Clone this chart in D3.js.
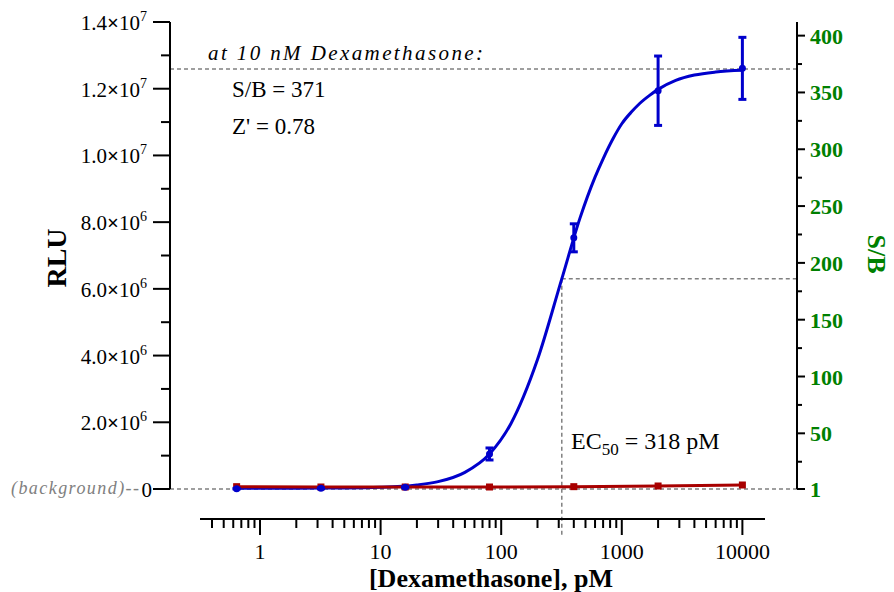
<!DOCTYPE html>
<html><head><meta charset="utf-8">
<script src="https://cdn.jsdelivr.net/npm/d3@7"></script>
<style>
html,body{margin:0;padding:0;background:#fff;}
svg{display:block;}
svg text{font-family:"Liberation Serif","Times New Roman",serif;}
</style></head>
<body><svg id="c" width="894" height="592"></svg>
<script>
// ---- data ----
const concentrations = [0.64, 3.2, 16, 80, 400, 2000, 10000];           // pM
const sampleRLU      = [0.01e6, 0.02e6, 0.05e6, 1.05e6, 7.53e6, 11.94e6, 12.61e6];
const sampleErr      = [0.01e6, 0.01e6, 0.01e6, 0.18e6, 0.42e6, 1.04e6, 0.93e6];
const backgroundRLU  = [0.07e6, 0.06e6, 0.06e6, 0.06e6, 0.07e6, 0.09e6, 0.12e6];
// fitted curve
const fitConc = [0.64, 1, 2, 5, 10, 20, 30, 50, 80, 120, 200, 318, 450, 600, 700, 845, 1000, 1200, 1400, 1700, 2000, 2800, 4000, 6000, 10000];
const fitRLU  = [0.02e6, 0.02e6, 0.025e6, 0.03e6, 0.05e6, 0.12e6, 0.22e6, 0.50e6, 1.05e6, 1.95e6, 3.88e6, 6.30e6,
                 8.12e6, 9.35e6, 9.9e6, 10.5e6, 10.95e6, 11.3e6, 11.55e6, 11.8e6, 11.98e6, 12.25e6, 12.41e6, 12.5e6, 12.55e6];
const leftTicks  = [0, 2e6, 4e6, 6e6, 8e6, 1e7, 1.2e7, 1.4e7];
const leftTickLabels = [["0"], ["2.0", "6"], ["4.0", "6"], ["6.0", "6"], ["8.0", "6"], ["1.0", "7"], ["1.2", "7"], ["1.4", "7"]];
const rightTicks = [1, 50, 100, 150, 200, 250, 300, 350, 400];
const xTicks     = [1, 10, 100, 1000, 10000];
const ec50 = 318, halfMax = 6.30e6, topLevel = 12.59e6;

// ---- scales ----
const svg = d3.select("#c");
const x  = d3.scaleLog().domain([0.318, 15400]).range([200, 765]);
const y  = d3.scaleLinear().domain([0, 1.4e7]).range([489, 22]);
const y2 = d3.scaleLinear().domain([1, 412]).range([489, 22]);
const xL = 170, xR = 797, xAxisY = 519;
const blue = "#0000cc", red = "#a80000", green = "#008000", gray = "#808080";

// ---- dashed guide lines ----
const dash = svg.append("g").attr("stroke", gray).attr("stroke-width", 1.5).attr("stroke-dasharray", "4,3").attr("fill", "none");
dash.append("line").attr("x1", xL).attr("x2", xR).attr("y1", y(topLevel)).attr("y2", y(topLevel));
dash.append("line").attr("x1", xL).attr("x2", xR).attr("y1", y(0)).attr("y2", y(0));
dash.append("line").attr("x1", x(ec50)).attr("x2", xR).attr("y1", y(halfMax)).attr("y2", y(halfMax));
dash.append("line").attr("x1", x(ec50)).attr("x2", x(ec50)).attr("y1", y(halfMax)).attr("y2", xAxisY + 16);

// ---- left axis ----
const la = svg.append("g");
la.append("line").attr("x1", xL).attr("x2", xL).attr("y1", y(1.4e7)).attr("y2", y(0)).attr("stroke", "#000").attr("stroke-width", 2);
const leftMinor = d3.range(1e6, 1.4e7, 2e6);
la.selectAll(".lmin").data(leftMinor).join("line").attr("x1", xL - 9).attr("x2", xL).attr("y1", d => y(d)).attr("y2", d => y(d)).attr("stroke", "#000").attr("stroke-width", 2);
la.selectAll(".lmaj").data(leftTicks).join("line").attr("x1", xL - 17).attr("x2", xL).attr("y1", d => y(d)).attr("y2", d => y(d)).attr("stroke", "#000").attr("stroke-width", 2);
leftTicks.forEach((v, i) => {
  const lab = leftTickLabels[i];
  const t = la.append("text").attr("text-anchor", "end").attr("font-size", 21).attr("fill", "#000")
    .attr("x", lab.length === 1 ? 152 : 147).attr("y", y(v) + 8);
  if (lab.length === 1) { t.text(lab[0]); return; }
  t.append("tspan").text(lab[0]);
  t.append("tspan").attr("font-weight", "bold").text("\u00d7");
  t.append("tspan").text("10");
  t.append("tspan").attr("font-size", 14).attr("dy", -9).text(lab[1]);
});
svg.append("text").attr("transform", "translate(66,258) rotate(-90)").attr("text-anchor", "middle")
  .attr("font-size", 28).attr("font-weight", "bold").text("RLU");

// background label
svg.append("text").attr("x", 11).attr("y", 494).attr("font-size", 18).attr("font-style", "italic").attr("fill", gray)
  .attr("textLength", 128).attr("lengthAdjust", "spacing").text("(background)--");

// ---- right axis ----
const ra = svg.append("g");
ra.append("line").attr("x1", xR).attr("x2", xR).attr("y1", y2(412)).attr("y2", y2(1)).attr("stroke", "#000").attr("stroke-width", 2);
const rightMinor = d3.range(25, 400, 50);
ra.selectAll(".rmin").data(rightMinor).join("line").attr("x1", xR).attr("x2", xR + 5).attr("y1", d => y2(d)).attr("y2", d => y2(d)).attr("stroke", "#000").attr("stroke-width", 2);
ra.selectAll(".rmaj").data(rightTicks).join("line").attr("x1", xR).attr("x2", xR + 8).attr("y1", d => y2(d)).attr("y2", d => y2(d)).attr("stroke", "#000").attr("stroke-width", 2);
ra.selectAll(".rlab").data(rightTicks).join("text").attr("x", 810).attr("y", d => y2(d) + 8)
  .attr("font-size", 22).attr("font-weight", "bold").attr("fill", green).text(d => d);
svg.append("text").attr("transform", "translate(868,254) rotate(90)").attr("text-anchor", "middle")
  .attr("font-size", 26).attr("font-weight", "bold").attr("fill", green).text("S/B");

// ---- x axis ----
const xa = svg.append("g");
xa.append("line").attr("x1", x.range()[0]).attr("x2", x.range()[1]).attr("y1", xAxisY).attr("y2", xAxisY).attr("stroke", "#000").attr("stroke-width", 2);
const minorX = [];
[0.1, 1, 10, 100, 1000].forEach(dec => { for (let k = 2; k <= 9; k++) { const v = dec * k; if (v >= x.domain()[0] && v <= x.domain()[1]) minorX.push(v); } });
xa.selectAll(".xmin").data(minorX).join("line").attr("x1", d => x(d)).attr("x2", d => x(d)).attr("y1", xAxisY).attr("y2", xAxisY + 9).attr("stroke", "#000").attr("stroke-width", 2);
xa.selectAll(".xmaj").data(xTicks).join("line").attr("x1", d => x(d)).attr("x2", d => x(d)).attr("y1", xAxisY).attr("y2", xAxisY + 16).attr("stroke", "#000").attr("stroke-width", 2);
xa.selectAll(".xlab").data(xTicks).join("text").attr("x", d => x(d)).attr("y", 559).attr("text-anchor", "middle")
  .attr("font-size", 22).text(d => d);
svg.append("text").attr("x", 491).attr("y", 587).attr("text-anchor", "middle").attr("font-size", 26).attr("font-weight", "bold")
  .text("[Dexamethasone], pM");

// ---- fitted curve ----
const fitPts = fitConc.map((c, i) => [c, fitRLU[i]]);
svg.append("path").datum(fitPts).attr("fill", "none").attr("stroke", blue).attr("stroke-width", 3)
  .attr("d", d3.line().x(d => x(d[0])).y(d => y(d[1])).curve(d3.curveMonotoneX));

// ---- background series ----
const bgPts = concentrations.map((c, i) => [c, backgroundRLU[i]]);
svg.append("path").datum(bgPts).attr("fill", "none").attr("stroke", red).attr("stroke-width", 3)
  .attr("d", d3.line().x(d => x(d[0])).y(d => y(d[1])));
svg.selectAll(".bgm").data(bgPts).join("rect").attr("x", d => x(d[0]) - 3.5).attr("y", d => y(d[1]) - 3.5)
  .attr("width", 7).attr("height", 7).attr("fill", red);

// ---- sample points with error bars ----
const sPts = concentrations.map((c, i) => ({c, v: sampleRLU[i], e: sampleErr[i]}));
const eb = svg.append("g").attr("stroke", blue).attr("stroke-width", 3);
sPts.forEach(p => {
  const cx = x(p.c);
  eb.append("line").attr("x1", cx).attr("x2", cx).attr("y1", y(p.v + p.e)).attr("y2", y(p.v - p.e));
  eb.append("line").attr("x1", cx - 4).attr("x2", cx + 4).attr("y1", y(p.v + p.e)).attr("y2", y(p.v + p.e));
  eb.append("line").attr("x1", cx - 4).attr("x2", cx + 4).attr("y1", y(p.v - p.e)).attr("y2", y(p.v - p.e));
});
svg.selectAll(".sm").data(sPts).join("circle").attr("cx", d => x(d.c)).attr("cy", d => y(d.v)).attr("r", 3.5).attr("fill", blue);

// ---- annotations ----
svg.append("text").attr("x", 208).attr("y", 60).attr("font-size", 21).attr("font-style", "italic")
  .attr("textLength", 275).attr("lengthAdjust", "spacing").text("at 10 nM Dexamethasone:");
svg.append("text").attr("x", 232).attr("y", 97).attr("font-size", 23).text("S/B = 371");
svg.append("text").attr("x", 232).attr("y", 134).attr("font-size", 23).text("Z' = 0.78");
const ec = svg.append("text").attr("x", 571).attr("y", 449).attr("font-size", 24);
ec.append("tspan").text("EC");
ec.append("tspan").attr("font-size", 17).attr("dy", 6).text("50");
ec.append("tspan").attr("dy", -6).text(" = 318 pM");
</script></body></html>
